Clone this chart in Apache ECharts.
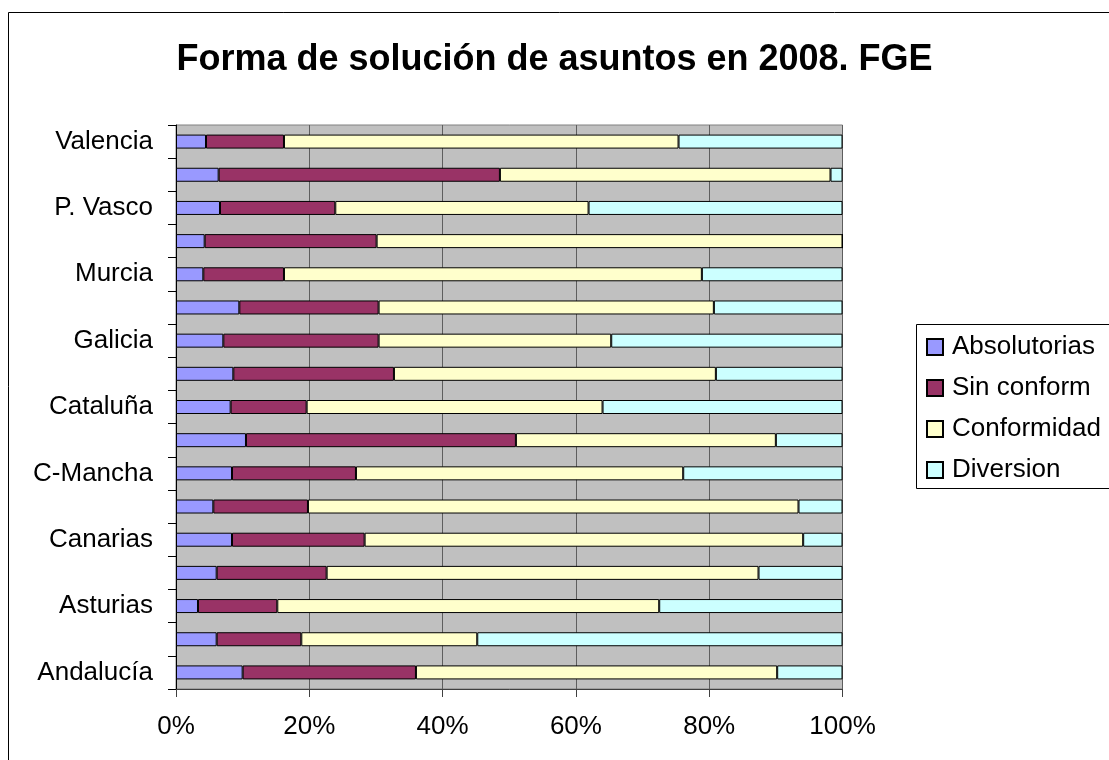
<!DOCTYPE html>
<html>
<head>
<meta charset="utf-8">
<title>Forma de solución de asuntos en 2008. FGE</title>
<script src="https://cdn.jsdelivr.net/npm/echarts@6/dist/echarts.min.js"></script>
<style>
  html, body { margin: 0; padding: 0; background: #fff; }
  #chart { width: 1109px; height: 760px; }
</style>
</head>
<body>
<div id="chart"></div>
<script>
// categories, bottom to top (only every other one gets a label)
var regiones = ['Andalucía', 'Aragón', 'Asturias', 'Baleares', 'Canarias', 'Cantabria',
  'C-Mancha', 'C-León', 'Cataluña', 'Extremadura', 'Galicia', 'Madrid',
  'Murcia', 'Navarra', 'P. Vasco', 'La Rioja', 'Valencia'];

// percentages
var absolutorias = [10.0, 6.1, 3.3, 6.1, 8.4, 5.6, 8.4, 10.5, 8.2, 8.6, 7.1, 9.5, 4.1, 4.3, 6.6, 6.4, 4.5];
var sinConform   = [26.0, 12.7, 11.9, 16.5, 19.9, 14.2, 18.6, 40.5, 11.4, 24.1, 23.3, 20.9, 12.1, 25.8, 17.3, 42.2, 11.7];
var conformidad  = [54.2, 26.4, 57.3, 64.8, 65.8, 73.6, 49.1, 39.0, 44.4, 48.3, 34.9, 50.3, 62.7, 69.9, 38.0, 49.6, 59.2];
var diversion    = [9.8, 54.8, 27.5, 12.6, 5.9, 6.6, 23.9, 10.0, 36.0, 19.0, 34.7, 19.3, 21.1, 0, 38.1, 1.8, 24.6];

var xTicks = [0, 20, 40, 60, 80, 100];

var font = "'Liberation Sans', Arial, sans-serif";

function serie(name, data, color) {
  return {
    name: name,
    type: 'bar',
    stack: 'total',
    barWidth: 14,
    data: data,
    itemStyle: { color: color, borderColor: '#000', borderWidth: 1 }
  };
}

var chart = echarts.init(document.getElementById('chart'));
chart.setOption({
  animation: false,
  backgroundColor: '#fff',
  title: {
    text: 'Forma de solución de asuntos en 2008. FGE',
    left: 'center',
    top: 42,
    padding: 0,
    textStyle: { fontFamily: font, fontSize: 36, fontWeight: 'bold', color: '#000' }
  },
  graphic: [{
    // outer chart frame, runs off the right and bottom edges
    type: 'rect',
    shape: { x: 8.5, y: 12.5, width: 1200, height: 900 },
    style: { fill: 'none', stroke: '#000', lineWidth: 1 },
    silent: true,
    z: -1
  }, {
    // legend frame, cut off at the right edge like the original
    type: 'rect',
    shape: { x: 916.5, y: 324.5, width: 300, height: 164 },
    style: { fill: '#fff', stroke: '#000', lineWidth: 1 },
    silent: true,
    z: 0
  }],
  legend: {
    orient: 'vertical',
    left: 916,
    top: 324,
    padding: [8, 10, 4, 10],
    itemGap: 11,
    itemWidth: 16,
    itemHeight: 16,
    icon: 'rect',
    z: 5,
    textStyle: { fontFamily: font, fontSize: 26, color: '#000', lineHeight: 30, padding: [0, 0, 0, 4] },
    data: ['Absolutorias', 'Sin conform', 'Conformidad', 'Diversion']
  },
  grid: {
    left: 176,
    right: 266.5,
    top: 125,
    bottom: 71,
    show: true,
    backgroundColor: '#c0c0c0',
    borderColor: '#808080',
    borderWidth: 1
  },
  xAxis: {
    type: 'value',
    min: xTicks[0],
    max: xTicks[xTicks.length - 1],
    interval: xTicks[1] - xTicks[0],
    axisLine: { show: true, lineStyle: { color: '#404040', width: 1 } },
    axisTick: { show: true, length: 8, lineStyle: { color: '#404040' } },
    splitLine: { show: true, lineStyle: { color: '#5e5e5e', width: 1 } },
    axisLabel: {
      margin: 25,
      fontFamily: font,
      fontSize: 26,
      color: '#000',
      formatter: '{value}%'
    }
  },
  yAxis: {
    type: 'category',
    data: regiones,
    axisLine: { show: true, lineStyle: { color: '#000', width: 1 } },
    axisTick: { show: true, interval: 0, length: 8, lineStyle: { color: '#000' } },
    splitLine: { show: false },
    axisLabel: {
      interval: 1,
      margin: 23,
      fontFamily: font,
      fontSize: 26,
      color: '#000'
    }
  },
  series: [
    serie('Absolutorias', absolutorias, '#9999ff'),
    serie('Sin conform', sinConform, '#993366'),
    serie('Conformidad', conformidad, '#ffffcc'),
    serie('Diversion', diversion, '#ccffff')
  ]
});
</script>
</body>
</html>
